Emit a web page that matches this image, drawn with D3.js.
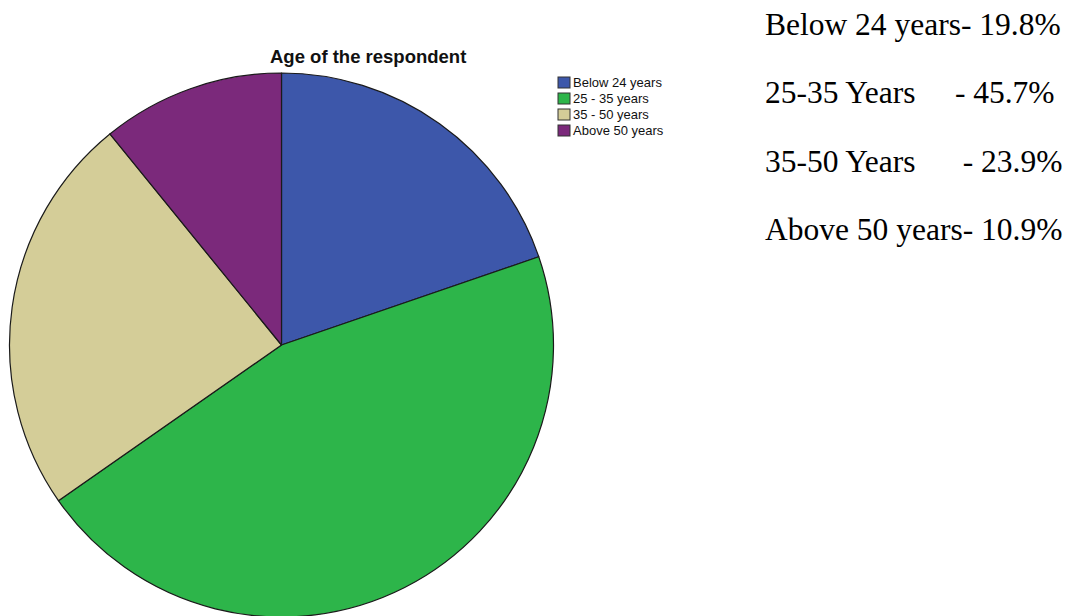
<!DOCTYPE html>
<html>
<head>
<meta charset="utf-8">
<script src="https://cdn.jsdelivr.net/npm/d3@7"></script>
<style>
  html, body { margin: 0; padding: 0; background: #fff; }
  svg { display: block; }
</style>
</head>
<body>
<svg id="chart" width="1068" height="616"></svg>
<script>
// Age groups and their shares (%)
const categories = ["Below 24 years", "25 - 35 years", "35 - 50 years", "Above 50 years"];
const values = [19.8, 45.7, 23.9, 10.9];
const colors = ["#3D57AA", "#2DB54A", "#D4CD98", "#7B297B"];

// Summary lines printed beside the chart
const summaryLines = [
  "Below 24 years- 19.8%",
  "25-35 Years     - 45.7%",
  "35-50 Years      - 23.9%",
  "Above 50 years- 10.9%"
];

const title = "Age of the respondent";

const svg = d3.select("#chart");

const cx = 281.5, cy = 345, radius = 272;

const color = d3.scaleOrdinal().domain(categories).range(colors);

const pie = d3.pie().sort(null).value(d => d.value);
const arc = d3.arc().innerRadius(0).outerRadius(radius);

const data = categories.map((c, i) => ({ category: c, value: values[i] }));

const g = svg.append("g").attr("transform", `translate(${cx},${cy})`);
g.selectAll("path")
  .data(pie(data))
  .join("path")
  .attr("d", arc)
  .attr("fill", d => color(d.data.category))
  .attr("stroke", "#1a1a1a")
  .attr("stroke-width", 1.2)
  .attr("stroke-linejoin", "round");

// Title
svg.append("text")
  .attr("x", 270)
  .attr("y", 63)
  .attr("font-family", "Liberation Sans, Arial, sans-serif")
  .attr("font-weight", "bold")
  .attr("font-size", 18.5)
  .attr("fill", "#111")
  .text(title);

// Legend
const legend = svg.append("g").attr("transform", "translate(558,77)");
const items = legend.selectAll("g")
  .data(categories)
  .join("g")
  .attr("transform", (d, i) => `translate(0,${i * 16})`);
items.append("rect")
  .attr("width", 12)
  .attr("height", 11)
  .attr("fill", d => color(d))
  .attr("stroke", "#333")
  .attr("stroke-width", 1);
items.append("text")
  .attr("x", 15)
  .attr("y", 10)
  .attr("font-family", "Liberation Sans, Arial, sans-serif")
  .attr("font-size", 13)
  .attr("fill", "#111")
  .text(d => d);

// Summary text
svg.append("g")
  .selectAll("text")
  .data(summaryLines)
  .join("text")
  .attr("x", 765)
  .attr("y", (d, i) => 35 + i * 68.4)
  .attr("font-family", "Liberation Serif, Times New Roman, serif")
  .attr("font-size", 31.5)
  .attr("fill", "#000")
  .style("white-space", "pre")
  .text(d => d);
</script>
</body>
</html>
